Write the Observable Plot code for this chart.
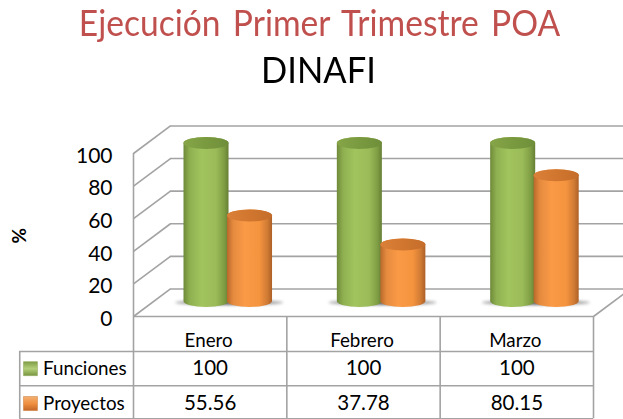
<!DOCTYPE html>
<html lang="es">
<head>
<meta charset="utf-8">
<script src="https://cdn.jsdelivr.net/npm/d3@7"></script>
<script src="https://cdn.jsdelivr.net/npm/@observablehq/plot@0.6"></script>
<style>
  html, body { margin: 0; padding: 0; background: #fff; overflow: hidden; }
  #head { height: 100px; width: 623px; text-align: center; font-family: Lato, sans-serif; font-weight: 400; position: relative; }
  #t1 { position: absolute; left: 16px; right: 0; top: 0; font-size: 36.5px; line-height: normal; color: #C0504D; white-space: nowrap; word-spacing: 4px; transform: scaleX(0.92); }
  #t2 { position: absolute; left: 14px; right: 0; top: 47px; font-size: 37.5px; line-height: 44px; color: #000; transform: scaleX(0.92); }
  svg { display: block; }
  .soft { filter: blur(0.6px); }
  .shadow { filter: blur(1.6px); }
</style>
</head>
<body>
<div id="head"><div id="t1">Ejecución Primer Trimestre POA</div><div id="t2">DINAFI</div></div>
<div id="chart"></div>
<script>
const months = ["Enero", "Febrero", "Marzo"];
const funciones = [100, 100, 100];
const proyectos = [55.56, 37.78, 80.15];
const ticks = [0, 20, 40, 60, 80, 100];
const seriesNames = ["Funciones", "Proyectos"];
const yLabel = "%";

// 3D wall depth, in data units
const depthX = 0.241, depthY = 16.9;
// table row lines and text rows, in y units below zero
const tableLines = [-21.5, -42.5, -62.8];
const rowMonth = -15.2, rowFunc = -32, rowProy = -53.4;
const legendX = -0.672, legendLabelX = -0.59;

const rows = months.flatMap((m, i) => [
  {i, m, v: funciones[i], s: 0},
  {i, m, v: proyectos[i], s: 1}
]);
const greens = rows.filter(d => d.s === 0);
const oranges = rows.filter(d => d.s === 1);

function defs() {
  const g = d3.create("svg:defs");
  const lin = (id, stops, y) => {
    const l = g.append("linearGradient").attr("id", id)
      .attr("x1", 0).attr("y1", 0).attr("x2", y ? 0 : 1).attr("y2", y ? 1 : 0);
    stops.forEach(([o, c]) => l.append("stop").attr("offset", o).attr("stop-color", c));
  };
  lin("gBody", [[0, "#6E8A3A"], [0.14, "#8FB050"], [0.4, "#A2C45E"], [0.72, "#9ABB58"], [0.9, "#7F9E44"], [1, "#667F35"]]);
  lin("oBody", [[0, "#B9682B"], [0.14, "#E58B3F"], [0.4, "#FB9A46"], [0.72, "#F5943F"], [0.9, "#CF7A34"], [1, "#AD6027"]]);
  lin("gCap", [[0, "#86A548"], [0.5, "#7A9A40"], [1, "#6F8E3A"]]);
  lin("oCap", [[0, "#DA8038"], [0.5, "#D0762F"], [1, "#C56D2B"]]);
  lin("shadow", [[0, "#b5b5b5"], [0.5, "#666"], [1, "#b5b5b5"]]);
  lin("gSw", [[0, "#7E9C45"], [0.5, "#B4D07A"], [1, "#77943E"]], true);
  lin("oSw", [[0, "#F4B073"], [0.5, "#F09040"], [1, "#C5672A"]], true);
  return g.node();
}

const grey = "#A3A3A3";
const lineStyle = {stroke: grey, strokeWidth: 1.6};

function cylinders(data, leftInset, rightInset, bodyId, capId) {
  const base = {x1: d => d.i, x2: d => d.i + 1, insetLeft: leftInset, insetRight: rightInset, dy: -10, className: "soft"};
  return [
    Plot.rect(data, {...base, y1: 0, y2: d => d.v, insetTop: -6, insetBottom: -1, rx: 22.5, ry: 6, fill: `url(#${bodyId})`}),
    Plot.rect(data, {...base, y1: d => d.v, y2: d => d.v, insetTop: -6, insetBottom: -6, rx: 22.5, ry: 6, fill: `url(#${capId})`})
  ];
}

const chart = Plot.plot({
  width: 623,
  height: 319,
  margin: 0,
  x: {domain: [0, 3], range: [133, 593], axis: null},
  y: {domain: [0, 100], range: [216, 53], axis: null},
  style: {background: "#fff", fontFamily: "Lato, sans-serif", color: "#000", overflow: "hidden"},
  marks: [
    defs,
    // back wall grid and side diagonals
    Plot.ruleY(ticks, {y: d => d + depthY, x1: depthX, x2: 3 + depthX, ...lineStyle}),
    Plot.link(ticks, {x1: 0, x2: depthX, y1: d => d, y2: d => d + depthY, ...lineStyle}),
    Plot.link([0], {x1: 3, x2: 3 + depthX, y1: 0, y2: depthY, ...lineStyle}),
    Plot.ruleX([0], {y1: 0, y2: 100, ...lineStyle}),
    // floor shadows
    Plot.rect(months.map((m, i) => i), {x1: d => d, x2: d => d + 1, y1: 0, y2: 0, dy: -13.5,
      insetLeft: 42, insetRight: 3, insetTop: -2.5, insetBottom: -2.5, rx: 40, ry: 2.5,
      fill: "url(#shadow)", className: "shadow"}),
    // cylinders
    ...cylinders(greens, 50.5, 57.8, "gBody", "gCap"),
    ...cylinders(oranges, 94, 14.3, "oBody", "oCap"),
    // table
    Plot.ruleY([0], {x1: 0, x2: 3, ...lineStyle}),
    Plot.ruleY(tableLines, {x1: legendX - 0.07, x2: 3, ...lineStyle}),
    Plot.ruleX([0, 1, 2, 3], {y1: 0, y2: tableLines[2], ...lineStyle}),
    Plot.ruleX([legendX - 0.07], {y1: tableLines[0], y2: tableLines[2], ...lineStyle}),
    // y tick labels and title
    Plot.text(ticks, {x: 0, y: d => d, text: d => String(d), dx: -21, dy: 2.5, textAnchor: "end", fontSize: 21}),
    Plot.text([yLabel], {x: -0.74, y: 49.5, text: d => d, rotate: -90, fontSize: 19, fontWeight: 700}),
    // table text
    Plot.text(months, {x: (d, i) => i + 0.5, y: rowMonth, dx: -1.5, text: d => d, fontSize: 18.8}),
    Plot.text(funciones, {x: (d, i) => i + 0.5, y: rowFunc, text: d => String(d), fontSize: 20.5}),
    Plot.text(proyectos, {x: (d, i) => i + 0.5, y: rowProy, text: d => d.toFixed(2), fontSize: 20.5}),
    // legend keys
    Plot.dot([0], {x: legendX, y: rowFunc, r: 7.9, symbol: "square", fill: "url(#gSw)", stroke: "#8aa552", strokeWidth: 0.5}),
    Plot.dot([0], {x: legendX, y: rowProy, r: 7.9, symbol: "square", fill: "url(#oSw)", stroke: "#c9772f", strokeWidth: 0.5}),
    Plot.text([seriesNames[0]], {x: legendLabelX, y: rowFunc, text: d => d, textAnchor: "start", fontSize: 18.8}),
    Plot.text([seriesNames[1]], {x: legendLabelX, y: rowProy, text: d => d, textAnchor: "start", fontSize: 18.8})
  ]
});
document.getElementById("chart").append(chart);
</script>
</body>
</html>
